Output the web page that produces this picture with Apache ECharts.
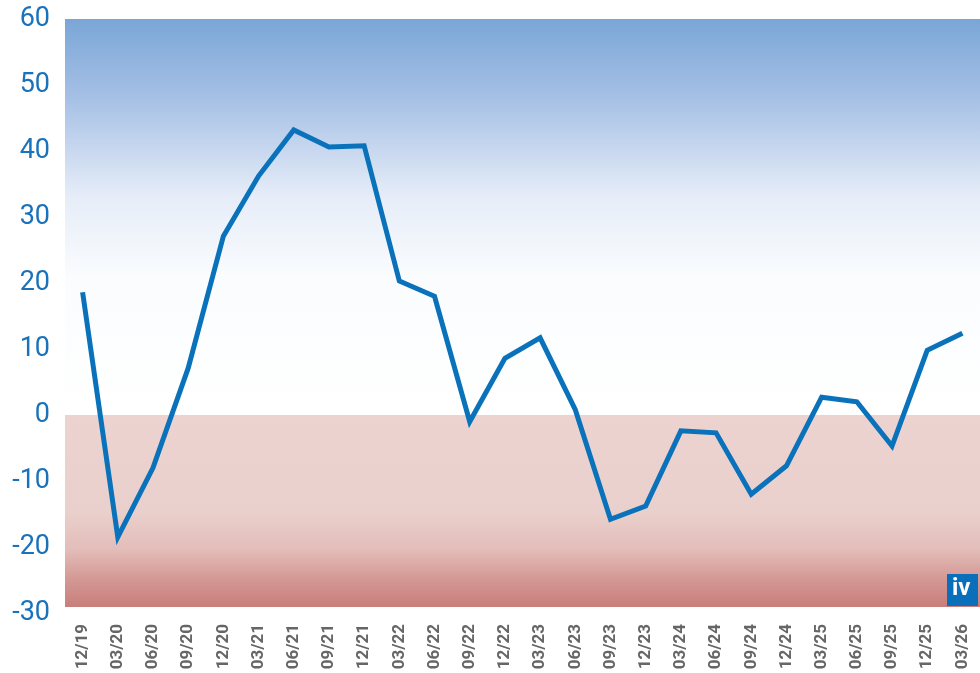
<!DOCTYPE html>
<html>
<head>
<meta charset="utf-8">
<script src="https://cdn.jsdelivr.net/npm/echarts@6/dist/echarts.min.js"></script>
<style>
  html, body { margin: 0; padding: 0; background: #fff; }
  #chart { width: 980px; height: 673px; }
</style>
</head>
<body>
<div id="chart"></div>
<script>
const categories = ['12/19', '03/20', '06/20', '09/20', '12/20', '03/21', '06/21', '09/21', '12/21',
  '03/22', '06/22', '09/22', '12/22', '03/23', '06/23', '09/23', '12/23', '03/24', '06/24',
  '09/24', '12/24', '03/25', '06/25', '09/25', '12/25', '03/26'];
const values = [18.6, -18.5, -8, 7.1, 27.1, 36.2, 43.2, 40.6, 40.8,
  20.3, 18, -1.0, 8.6, 11.7, 0.8, -15.8, -13.8, -2.4, -2.7,
  -12, -7.7, 2.7, 2.0, -4.7, 9.8, 12.4];
const yMin = -30;
const yMax = 60;
const yStep = 10;

const chart = echarts.init(document.getElementById('chart'), null, { renderer: 'canvas' });

const option = {
  animation: false,
  grid: { left: 65, right: 0, top: 19, bottom: 60 },
  xAxis: {
    type: 'category',
    data: categories,
    boundaryGap: true,
    axisLine: { show: false },
    axisTick: { show: false },
    axisLabel: {
      rotate: 90,
      margin: 11,
      color: '#666',
      fontSize: 17,
      fontWeight: 'bold',
      fontFamily: 'Roboto'
    }
  },
  yAxis: {
    type: 'value',
    min: yMin,
    max: yMax,
    interval: yStep,
    axisLine: { show: false },
    axisTick: { show: false },
    splitLine: { show: false },
    axisLabel: {
      margin: 15,
      color: '#1a72bb',
      fontSize: 27,
      fontFamily: 'Roboto'
    }
  },
  series: [{
    type: 'line',
    data: values,
    symbol: 'none',
    z: 5,
    lineStyle: { color: '#0a72ba', width: 5, join: 'miter' },
    markArea: {
      silent: true,
      data: [
        [
          {
            yAxis: 60.45,
            itemStyle: {
              color: new echarts.graphic.LinearGradient(0, 0, 0, 1, [
                { offset: 0, color: '#7aa6d7' },
                { offset: 0.2, color: '#a6c0e5' },
                { offset: 0.45, color: '#e6edf8' },
                { offset: 0.65, color: '#fafcfe' },
                { offset: 1, color: '#ffffff' }
              ])
            }
          },
          { yAxis: 0 }
        ],
        [
          {
            yAxis: 0,
            itemStyle: {
              color: new echarts.graphic.LinearGradient(0, 0, 0, 1, [
                { offset: 0, color: '#ecd3d0' },
                { offset: 0.5, color: '#ead0cc' },
                { offset: 0.7, color: '#e3bdb9' },
                { offset: 0.85, color: '#d49995' },
                { offset: 1, color: '#c87e7b' }
              ])
            }
          },
          { yAxis: -29.1 }
        ]
      ]
    }
  }],
  graphic: [
    {
      type: 'rect', left: 947, top: 574, z: 100,
      shape: { width: 31, height: 32 },
      style: { fill: '#0a6fba' }
    },
    {
      type: 'text', left: 952, top: 577, z: 101,
      style: { text: 'iv', fill: '#ffffff', font: 'bold 24px Roboto' }
    }
  ]
};

chart.setOption(option);
window.addEventListener('resize', () => chart.resize());
</script>
</body>
</html>
